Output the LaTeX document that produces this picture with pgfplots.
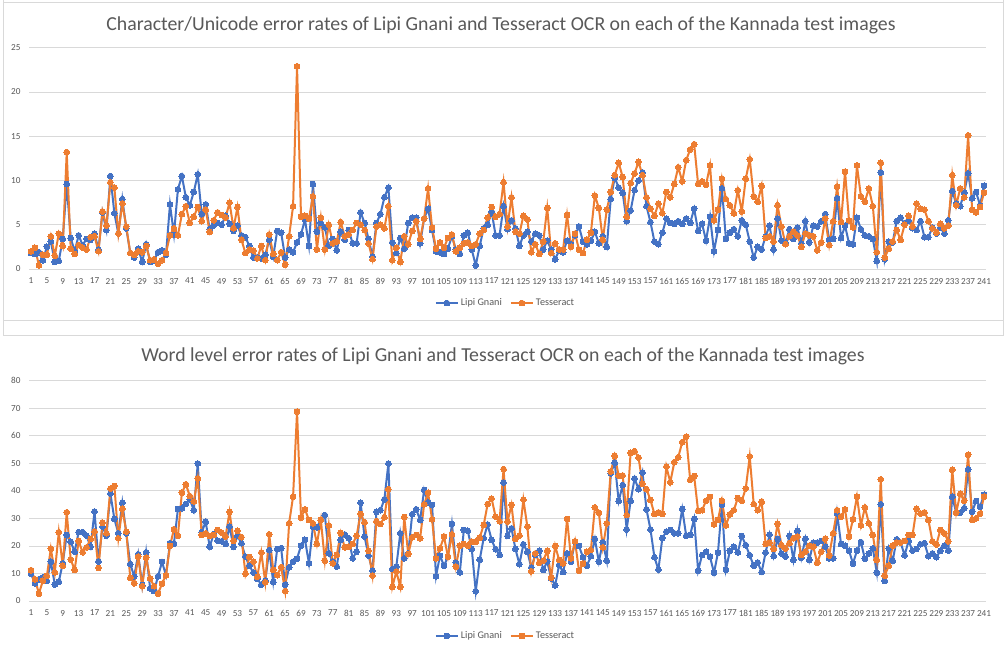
\documentclass[border=0pt]{standalone}
\usepackage{pgfplots}
\usepackage{fontspec}
\setmainfont{Carlito}
\pgfplotsset{compat=1.18}
\usepackage{pgfplotstable}
\definecolor{lblue}{HTML}{4472C4}
\definecolor{lorange}{HTML}{ED7D31}
\definecolor{lgrid}{HTML}{D9D9D9}
\definecolor{ltext}{HTML}{595959}
\pgfplotstableread[row sep=\\]{
i l t\\
1 1.8 2.0\\ 2 1.7 2.4\\ 3 1.9 0.4\\ 4 1.0 1.6\\ 5 2.5 1.6\\ 6 3.1 3.7\\ 7 0.8 1.5\\ 8 0.9 4.0\\ 9 3.4 2.6\\ 10 9.6 13.2\\
11 3.5 2.3\\ 12 2.0 1.7\\ 13 3.8 2.7\\ 14 2.7 2.4\\ 15 3.4 2.2\\ 16 3.3 3.6\\ 17 4.0 3.7\\ 18 2.2 2.0\\ 19 6.4 6.5\\ 20 4.4 4.9\\
21 10.5 9.8\\ 22 6.3 9.2\\ 23 4.0 4.0\\ 24 7.9 7.4\\ 25 4.6 4.8\\ 26 1.8 1.8\\ 27 1.3 1.6\\ 28 2.3 2.0\\ 29 0.8 1.9\\ 30 2.8 2.6\\
31 0.8 1.0\\ 32 1.0 1.1\\ 33 1.9 0.6\\ 34 2.1 1.0\\ 35 1.6 1.8\\ 36 7.3 3.8\\ 37 3.9 4.6\\ 38 9.0 3.8\\ 39 10.5 6.2\\ 40 8.1 7.1\\
41 7.2 5.2\\ 42 8.7 5.9\\ 43 10.7 7.0\\ 44 6.2 5.4\\ 45 7.3 6.7\\ 46 4.5 4.2\\ 47 4.9 5.5\\ 48 5.2 6.4\\ 49 5.0 6.1\\ 50 6.0 5.8\\
51 5.1 7.5\\ 52 4.3 4.6\\ 53 4.9 7.0\\ 54 3.8 3.3\\ 55 3.6 1.8\\ 56 2.6 2.2\\ 57 1.3 2.1\\ 58 1.3 1.2\\ 59 1.2 2.6\\ 60 1.6 1.0\\
61 3.3 3.9\\ 62 1.4 1.7\\ 63 4.3 1.0\\ 64 4.1 1.9\\ 65 1.3 0.5\\ 66 2.2 3.7\\ 67 1.9 7.1\\ 68 3.0 22.9\\ 69 3.9 5.9\\ 70 5.6 6.0\\
71 2.6 5.7\\ 72 9.6 8.2\\ 73 4.2 2.2\\ 74 5.2 5.8\\ 75 4.7 2.2\\ 76 2.6 5.0\\ 77 3.4 2.9\\ 78 2.1 3.1\\ 79 4.2 5.3\\ 80 3.3 3.7\\
81 4.4 3.9\\ 82 2.9 4.4\\ 83 2.9 5.2\\ 84 6.4 5.0\\ 85 5.2 4.4\\ 86 3.4 2.9\\ 87 1.4 1.1\\ 88 5.2 4.8\\ 89 6.2 5.0\\ 90 8.1 4.6\\
91 9.2 7.1\\ 92 3.0 1.0\\ 93 1.8 2.4\\ 94 3.5 0.8\\ 95 2.3 3.7\\ 96 5.2 2.8\\ 97 5.8 4.3\\ 98 5.8 5.4\\ 99 2.9 3.4\\ 100 5.7 5.7\\
101 6.8 9.1\\ 102 4.4 4.7\\ 103 2.0 2.3\\ 104 1.9 3.0\\ 105 1.7 2.4\\ 106 2.3 3.5\\ 107 3.7 3.9\\ 108 2.2 2.0\\ 109 1.7 2.4\\ 110 3.8 2.9\\
111 4.1 3.0\\ 112 2.2 2.6\\ 113 0.4 2.8\\ 114 2.6 4.0\\ 115 4.6 4.4\\ 116 5.0 5.8\\ 117 6.5 7.0\\ 118 3.8 5.9\\ 119 3.8 6.2\\ 120 7.1 9.8\\
121 4.5 4.8\\ 122 5.5 8.1\\ 123 4.6 4.2\\ 124 2.6 4.0\\ 125 3.8 6.0\\ 126 4.2 5.6\\ 127 3.1 1.9\\ 128 4.0 2.8\\ 129 3.8 1.7\\ 130 2.2 3.1\\
131 3.2 6.9\\ 132 2.2 1.8\\ 133 1.1 2.9\\ 134 2.1 2.2\\ 135 1.9 2.2\\ 136 3.2 6.1\\ 137 2.8 2.5\\ 138 3.8 4.0\\ 139 4.8 2.2\\ 140 3.1 1.8\\
141 2.8 3.3\\ 142 3.2 4.1\\ 143 4.2 8.3\\ 144 2.9 6.9\\ 145 3.7 3.3\\ 146 2.5 6.7\\ 147 7.9 8.7\\ 148 10.3 10.6\\ 149 9.2 12.0\\ 150 8.6 10.4\\
151 5.4 5.9\\ 152 6.6 9.7\\ 153 8.9 10.8\\ 154 10.0 12.1\\ 155 10.9 10.6\\ 156 7.1 8.1\\ 157 5.3 6.8\\ 158 3.1 6.0\\ 159 2.8 7.4\\ 160 4.1 6.3\\
161 5.7 8.7\\ 162 5.2 8.1\\ 163 5.1 9.6\\ 164 5.4 11.5\\ 165 5.1 9.9\\ 166 5.7 12.3\\ 167 5.2 13.5\\ 168 6.8 14.1\\ 169 4.3 9.6\\ 170 5.1 9.9\\
171 3.2 9.5\\ 172 5.9 11.7\\ 173 2.0 5.5\\ 174 4.4 6.7\\ 175 9.1 10.2\\ 176 3.4 7.9\\ 177 4.1 7.2\\ 178 4.5 6.3\\ 179 3.7 8.9\\ 180 5.5 6.5\\
181 5.0 10.2\\ 182 3.1 12.4\\ 183 1.3 8.2\\ 184 2.5 7.6\\ 185 2.2 9.4\\ 186 3.7 3.5\\ 187 4.9 3.7\\ 188 2.2 3.1\\ 189 5.7 7.2\\ 190 3.2 4.8\\
191 3.0 2.8\\ 192 4.5 3.7\\ 193 3.4 4.2\\ 194 4.7 3.8\\ 195 2.9 2.5\\ 196 5.4 4.0\\ 197 3.0 3.8\\ 198 4.9 3.7\\ 199 4.8 2.1\\ 200 5.4 3.0\\
201 6.2 5.7\\ 202 3.3 2.7\\ 203 3.4 5.4\\ 204 8.0 9.3\\ 205 3.5 5.3\\ 206 4.9 11.0\\ 207 2.9 5.5\\ 208 2.8 4.7\\ 209 5.8 11.7\\ 210 4.5 8.2\\
211 3.8 7.6\\ 212 3.7 9.1\\ 213 3.4 7.1\\ 214 0.9 1.9\\ 215 10.9 12.0\\ 216 1.1 1.3\\ 217 3.1 2.3\\ 218 3.0 3.1\\ 219 5.4 4.4\\ 220 5.8 3.3\\
221 5.1 5.0\\ 222 5.5 6.0\\ 223 4.6 4.8\\ 224 4.4 7.4\\ 225 5.4 6.8\\ 226 3.6 6.7\\ 227 3.6 5.4\\ 228 4.7 4.6\\ 229 4.0 4.1\\ 230 4.7 5.1\\
231 4.0 4.6\\ 232 5.5 4.9\\ 233 8.8 10.6\\ 234 7.4 7.2\\ 235 7.1 9.1\\ 236 8.6 8.1\\ 237 10.8 15.1\\ 238 8.0 6.7\\ 239 8.7 6.4\\ 240 7.2 7.0\\
241 9.4 8.6\\
}\tablea
\pgfplotstableread[row sep=\\]{
i l t\\
1 9.9 11.2\\ 2 6.4 7.9\\ 3 7.9 2.7\\ 4 8.6 7.4\\ 5 7.3 9.1\\ 6 14.3 19.0\\ 7 6.0 10.4\\ 8 7.0 25.0\\ 9 13.7 12.8\\ 10 24.0 32.2\\
11 21.5 15.1\\ 12 17.9 11.3\\ 13 25.0 21.8\\ 14 25.0 17.7\\ 15 23.7 19.5\\ 16 19.7 22.5\\ 17 32.5 25.2\\ 18 14.4 12.0\\ 19 27.0 28.4\\ 20 23.7 24.6\\
21 39.0 40.8\\ 22 29.8 41.8\\ 23 24.6 22.8\\ 24 35.7 33.5\\ 25 24.6 25.2\\ 26 13.4 8.4\\ 27 9.0 6.4\\ 28 17.0 16.1\\ 29 5.8 5.4\\ 30 17.7 15.7\\
31 4.6 8.2\\ 32 3.6 5.4\\ 33 9.0 2.7\\ 34 14.2 6.3\\ 35 9.3 9.4\\ 36 21.0 20.0\\ 37 20.8 26.1\\ 38 33.4 23.7\\ 39 33.7 39.3\\ 40 35.2 42.4\\
41 36.9 38.1\\ 42 33.0 36.2\\ 43 49.9 44.5\\ 44 25.0 24.0\\ 45 28.8 24.6\\ 46 19.7 23.6\\ 47 24.3 24.0\\ 48 21.9 25.8\\ 49 21.7 24.8\\ 50 20.7 23.4\\
51 27.0 32.4\\ 52 19.7 21.8\\ 53 23.6 25.5\\ 54 21.0 23.2\\ 55 16.1 9.9\\ 56 12.8 16.0\\ 57 10.3 14.3\\ 58 8.1 8.8\\ 59 5.9 17.6\\ 60 7.4 6.8\\
61 18.5 24.2\\ 62 6.9 11.3\\ 63 18.9 9.4\\ 64 19.2 12.3\\ 65 5.9 3.6\\ 66 12.2 28.2\\ 67 14.3 37.9\\ 68 15.4 68.8\\ 69 20.1 30.3\\ 70 22.2 33.3\\
71 13.7 29.4\\ 72 27.0 28.2\\ 73 26.8 20.7\\ 74 29.4 29.4\\ 75 31.2 14.6\\ 76 17.3 27.4\\ 77 14.3 13.7\\ 78 12.5 16.7\\ 79 22.2 24.7\\ 80 24.2 19.5\\
81 22.8 19.7\\ 82 15.5 20.7\\ 83 17.9 23.7\\ 84 35.7 31.6\\ 85 23.4 28.6\\ 86 16.5 18.2\\ 87 11.0 9.2\\ 88 32.4 29.0\\ 89 33.0 28.0\\ 90 36.9 30.4\\
91 49.9 40.6\\ 92 11.6 5.1\\ 93 12.5 10.7\\ 94 24.6 5.1\\ 95 15.5 30.5\\ 96 17.3 17.1\\ 97 31.5 23.1\\ 98 33.3 24.0\\ 99 29.4 22.8\\ 100 40.3 35.1\\
101 35.8 39.3\\ 102 34.9 29.7\\ 103 9.0 15.5\\ 104 16.5 19.1\\ 105 12.8 23.4\\ 106 16.0 16.1\\ 107 28.0 24.2\\ 108 13.9 12.5\\ 109 10.4 20.1\\ 110 25.8 20.7\\
111 25.5 20.1\\ 112 18.9 21.5\\ 113 3.5 21.5\\ 114 15.0 23.0\\ 115 22.8 27.6\\ 116 27.8 35.2\\ 117 22.2 37.2\\ 118 18.8 30.6\\ 119 16.7 29.0\\ 120 43.0 47.9\\
121 23.6 28.8\\ 122 26.4 34.9\\ 123 18.9 22.5\\ 124 13.4 23.7\\ 125 20.6 36.8\\ 126 17.9 27.0\\ 127 12.2 10.8\\ 128 16.7 17.3\\ 129 18.2 13.9\\ 130 11.3 14.6\\
131 14.3 18.2\\ 132 8.2 8.5\\ 133 5.7 20.0\\ 134 13.1 14.9\\ 135 10.5 13.7\\ 136 17.3 29.8\\ 137 14.3 15.5\\ 138 21.5 21.7\\ 139 20.0 11.0\\ 140 15.9 13.6\\
141 12.8 17.9\\ 142 16.3 18.5\\ 143 22.5 34.0\\ 144 14.3 32.1\\ 145 21.3 19.5\\ 146 14.6 28.2\\ 147 46.4 47.0\\ 148 50.2 52.7\\ 149 36.3 45.5\\ 150 42.1 45.6\\
151 26.0 31.2\\ 152 36.3 53.8\\ 153 44.5 54.4\\ 154 40.6 52.1\\ 155 46.6 42.5\\ 156 33.3 40.6\\ 157 26.0 36.7\\ 158 15.9 31.6\\ 159 11.4 32.2\\ 160 22.9 31.6\\
161 25.2 48.8\\ 162 25.8 43.1\\ 163 24.6 50.4\\ 164 24.6 52.2\\ 165 33.4 57.7\\ 166 23.7 59.7\\ 167 24.0 44.0\\ 168 29.8 45.4\\ 169 11.0 32.7\\ 170 16.7 33.0\\
171 17.9 36.4\\ 172 16.1 37.8\\ 173 10.2 27.8\\ 174 17.6 29.4\\ 175 34.9 36.4\\ 176 11.4 27.5\\ 177 18.2 31.5\\ 178 19.7 33.0\\ 179 17.7 37.4\\ 180 23.6 36.4\\
181 20.3 40.9\\ 182 16.6 52.5\\ 183 12.8 35.2\\ 184 14.0 33.0\\ 185 10.5 36.0\\ 186 17.6 20.7\\ 187 24.1 21.2\\ 188 16.3 18.9\\ 189 22.5 28.0\\ 190 17.3 20.3\\
191 16.1 19.1\\ 192 23.7 21.0\\ 193 14.9 22.8\\ 194 25.5 23.4\\ 195 15.7 16.7\\ 196 22.6 17.9\\ 197 14.9 20.1\\ 198 21.2 19.7\\ 199 21.2 13.9\\ 200 21.8 17.9\\
201 19.7 22.6\\ 202 15.5 16.5\\ 203 15.5 24.6\\ 204 31.8 33.0\\ 205 20.7 30.6\\ 206 20.1 33.3\\ 207 18.3 23.4\\ 208 13.6 29.7\\ 209 18.3 37.9\\ 210 21.4 27.5\\
211 15.3 34.0\\ 212 17.3 28.2\\ 213 19.1 24.0\\ 214 10.3 14.9\\ 215 35.1 44.2\\ 216 7.3 9.2\\ 217 19.1 12.8\\ 218 14.6 20.1\\ 219 22.4 21.2\\ 220 21.3 21.2\\
221 16.6 21.8\\ 222 21.8 24.0\\ 223 18.3 24.0\\ 224 18.9 33.5\\ 225 20.6 31.8\\ 226 21.0 32.2\\ 227 16.3 29.4\\ 228 17.3 21.7\\ 229 15.9 20.5\\ 230 18.2 25.8\\
231 20.1 24.6\\ 232 18.3 21.7\\ 233 37.9 47.7\\ 234 32.1 32.1\\ 235 32.1 38.9\\ 236 33.7 36.4\\ 237 47.8 53.1\\ 238 32.4 29.4\\ 239 36.3 30.0\\ 240 34.3 31.7\\
241 38.6 37.9\\
}\tableb
\pgfplotsset{
  errchart/.style={
    scale only axis, width=957pt, anchor=south west,
    xmin=0.5, xmax=241.5,
    xtick={1,5,...,241},
    ymin=0,
    major tick length=0pt,
    ymajorgrids, grid style={lgrid,line width=0.8pt},
    axis line style={draw=none},
    axis x line*=bottom, axis y line*=left,
    separate axis lines,
    x axis line style={draw=lgrid,line width=0.8pt,-},
    y axis line style={draw=none},
    tick label style={font=\fontsize{9.2}{11}\selectfont,text=ltext,/pgf/number format/assume math mode=true},
    xticklabel style={yshift=-5.5pt},
    yticklabel style={xshift=-5pt},
    scaled ticks=false,
    legend columns=2,
    legend style={draw=none,fill=none,font=\fontsize{10.2}{12}\selectfont,text=ltext,anchor=center,
      /tikz/every even column/.append style={column sep=6pt}},
    legend cell align=left,
    legend image code/.code={
      \draw[#1,mark repeat=2,mark phase=2] plot coordinates {(0pt,0pt) (11pt,0pt) (22pt,0pt)};
    },
  },
  series/.style={color=#1,line width=2pt,mark=*,mark size=2.9pt,mark options={solid,fill=#1,draw=#1,line width=0pt}},
}
\begin{document}
\begin{tikzpicture}[x=1pt,y=1pt]
\useasboundingbox (0,0) rectangle (1006,651);
\fill[white] (0,0) rectangle (1006,651);
\draw[lgrid,line width=0.9pt] (3.5,331) rectangle (1003,648.5);
\draw[lgrid,line width=0.9pt] (3.5,652) -- (3.5,316) -- (1003,316) -- (1003,652);
\node[text=ltext,font=\fontsize{19.8}{24}\selectfont] at (501,625.5) {Character/Unicode error rates of Lipi Gnani and Tesseract OCR on each of the Kannada test images};
\node[text=ltext,font=\fontsize{19.8}{24}\selectfont] at (503,294.5) {Word level error rates of Lipi Gnani and Tesseract OCR on each of the Kannada test images};
\begin{axis}[errchart, at={(29pt,382pt)}, height=221.3pt, ymax=25, ytick={0,5,...,25},
  legend style={at={(axis cs:120.5,-3.85)}}]
\addplot[series=lblue] table[x=i,y=l] {\tablea};
\addlegendentry{Lipi Gnani}
\addplot[series=lorange] table[x=i,y=t] {\tablea};
\addlegendentry{Tesseract}
\end{axis}
\begin{axis}[errchart, at={(29pt,50pt)}, height=220.3pt, ymax=80, ytick={0,10,...,80},
  legend style={at={(axis cs:120.5,-12.7)}}]
\addplot[series=lblue] table[x=i,y=l] {\tableb};
\addlegendentry{Lipi Gnani}
\addplot[series=lorange] table[x=i,y=t] {\tableb};
\addlegendentry{Tesseract}
\end{axis}
\end{tikzpicture}
\end{document}
